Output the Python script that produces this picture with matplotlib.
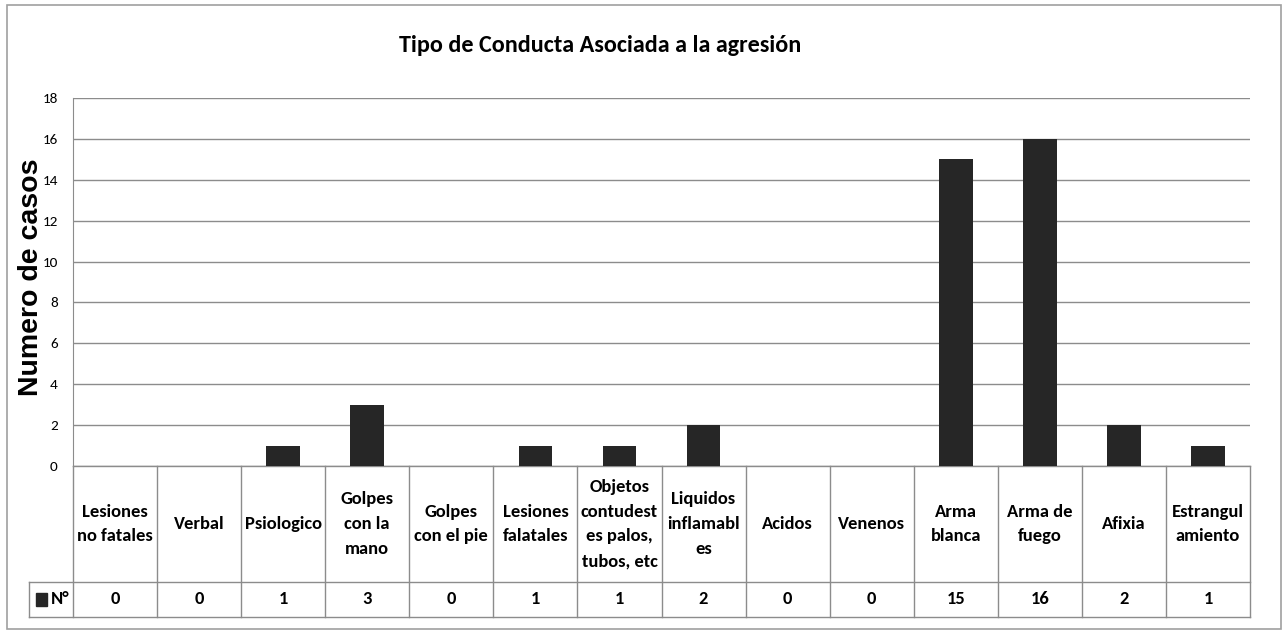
import matplotlib.pyplot as plt
import matplotlib.transforms as mtransforms
from matplotlib.patches import Rectangle
from matplotlib.lines import Line2D

# datos del grafico
categorias = ['Lesiones\nno fatales', 'Verbal', 'Psiologico', 'Golpes\ncon la\nmano',
              'Golpes\ncon el pie', 'Lesiones\nfalatales',
              'Objetos\ncontudest\nes palos,\ntubos, etc', 'Liquidos\ninflamabl\nes',
              'Acidos', 'Venenos', 'Arma\nblanca', 'Arma de\nfuego', 'Afixia',
              'Estrangul\namiento']
casos = [0, 0, 1, 3, 0, 1, 1, 2, 0, 0, 15, 16, 2, 1]
serie = 'N°'
yticks = list(range(0, 19, 2))

CAL = ['Carlito', 'Open Sans', 'DejaVu Sans']
GRIS = '#8c8c8c'
BARRA = '#262626'

W, H = 1284, 630
fig = plt.figure(figsize=(W / 100, H / 100), dpi=100)
ax = fig.add_axes([73 / W, (H - 466) / H, 1177 / W, 368 / H])

x = list(range(len(casos)))
ax.bar(x, casos, width=0.4, color=BARRA, zorder=3)

ax.set_xlim(-0.5, len(casos) - 0.5)
ax.set_ylim(0, 18)
ax.set_yticks(yticks)
ax.set_yticklabels([str(t) for t in yticks], family=CAL, fontsize=11)
ax.tick_params(axis='y', length=0, pad=11)
ax.set_xticks([])
ax.grid(axis='y', color=GRIS, linewidth=1, zorder=0)
for s in ['top', 'right', 'bottom']:
    ax.spines[s].set_visible(False)
ax.spines['left'].set_color(GRIS)

# --- tabla de datos debajo del eje ---
trans = mtransforms.blended_transform_factory(ax.transData, ax.transAxes)
col = 1177 / len(casos)          # ancho de columna en px
y_head = -116 / 368
y_val = -151 / 368
x_leg = -0.5 - 44 / col

def linea(xs, ys):
    ax.add_line(Line2D(xs, ys, transform=trans, color=GRIS, lw=1, clip_on=False))

for i in range(len(casos) + 1):
    linea([i - 0.5, i - 0.5], [0, y_val])
linea([-0.5, len(casos) - 0.5], [0, 0])
linea([x_leg, len(casos) - 0.5], [y_head, y_head])
linea([x_leg, len(casos) - 0.5], [y_val, y_val])
linea([x_leg, x_leg], [y_head, y_val])

y_mid = (y_head + y_val) / 2
for i, (cat, v) in enumerate(zip(categorias, casos)):
    ax.text(i, y_head / 2, cat, transform=trans, ha='center', va='center',
            family=CAL, fontsize=13.3, fontweight='bold', linespacing=1.68)
    ax.text(i, y_mid, str(v), transform=trans, ha='center',
            va='center', family=CAL, fontsize=13.3, fontweight='bold')

# leyenda dentro de la tabla
ax.add_patch(Rectangle((-0.5 - 37 / col, y_mid - 6.5 / 368), 11 / col, 13 / 368,
                       transform=trans, color=BARRA, clip_on=False))
ax.text(-0.5 - 22 / col, y_mid, serie, transform=trans, ha='left',
        va='center', family=CAL, fontsize=13.3, fontweight='bold')

# titulo y etiqueta del eje
fig.text(600 / W, (H - 45) / H, 'Tipo de Conducta Asociada a la agresión',
         ha='center', va='center', family=CAL, fontsize=17.4, fontweight='bold')
fig.text(31 / W, (H - 277) / H, 'Numero de casos', rotation=90, ha='center',
         va='center', family=['Liberation Sans', 'DejaVu Sans'], fontsize=20.5,
         fontweight='bold')

# marco exterior
fig.add_artist(Rectangle((7 / W, 1 / H), 1274 / W, 624 / H, transform=fig.transFigure,
                         fill=False, edgecolor='#a0a0a0', lw=1.2))

fig.savefig('out.png', dpi=100)
